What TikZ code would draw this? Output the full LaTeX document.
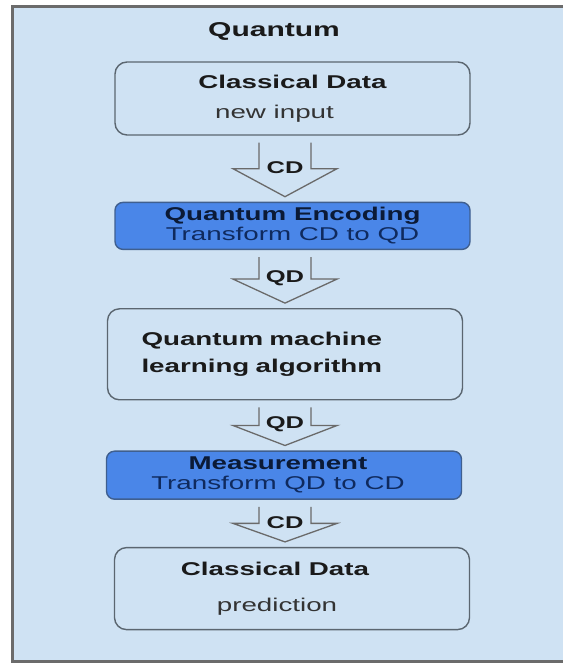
\documentclass[tikz,border=0pt]{standalone}
\usepackage{fontspec}
\setmainfont[FakeStretch=1.5]{Liberation Sans}
\usetikzlibrary{positioning, calc}
\definecolor{paneblue}{HTML}{CFE2F3}
\definecolor{stepblue}{HTML}{4A86E8}
\definecolor{stepedge}{HTML}{3F5F8F}
\definecolor{framegray}{HTML}{6B6B6B}
\definecolor{edgegray}{HTML}{5B6670}
\definecolor{arrowgray}{HTML}{6A6A6A}
\definecolor{inktext}{HTML}{1A1A1A}
\definecolor{softtext}{HTML}{333333}
\definecolor{navytext}{HTML}{0B1A36}
\definecolor{navysub}{HTML}{0F2A5E}

% hollow down arrow between two stacked boxes, open at the top
\newcommand{\flowdown}[4]{%
  \draw[hollow] let \p1=(#1.south), \p2=(#2.north), \n1={0.5*(\y1+\y2)} in
    (259,\y1-7) -- (259,\n1) -- (233,\n1) -- (285,\y2+5)
    -- (337,\n1) -- (311,\n1) -- (311,\y1-7)
    node[flowtag] (#4) at (285,\n1+1) {#3};}

\begin{document}
\begin{tikzpicture}[
    x=1pt, y=1pt,
    node distance=50pt,
    plainbox/.style={rectangle, draw=edgegray, line width=1.4pt,
                     rounded corners=12pt, minimum width=355pt,
                     align=center, text=inktext, inner ysep=2pt,
                     font=\fontsize{18.5}{20}\selectfont},
    stepbox/.style={plainbox, fill=stepblue, draw=stepedge,
                    rounded corners=8pt, text=navytext},
    hollow/.style={draw=arrowgray, line width=1.3pt, line join=miter},
    flowtag/.style={font=\bfseries\fontsize{17}{17}\selectfont,
                    text=inktext, inner sep=0pt}
  ]
    \useasboundingbox (0,0) rectangle (563,663);
    % pane with its frame on the left, top and bottom
    \fill[white] (0,0) rectangle (563,663);
    \fill[paneblue] (12,1.5) rectangle (563,656.5);
    \draw[framegray, line width=3pt]
      (563,656.5) -- (12.5,656.5) -- (12.5,1.5) -- (563,1.5);

    \node[font=\bfseries\fontsize{20}{22}\selectfont, text=inktext] (title)
      at (274,632) {Quantum};

    \node[plainbox, minimum height=73pt] (cin) at (292.5,564.5)
      {\bfseries Classical Data\\[10pt]\color{softtext}new input\hspace*{36pt}};
    \node[stepbox, minimum height=47pt, below=66pt of cin] (enc)
      {\bfseries Quantum Encoding\\\color{navysub}Transform CD to QD};
    \node[plainbox, minimum height=91pt, below=58pt of enc, xshift=-7.5pt,
          text width=287pt, align=left, font=\bfseries\fontsize{18.5}{27}\selectfont] (qml)
      {Quantum machine\\learning algorithm};
    \node[stepbox, minimum height=48pt, below=50pt of qml, xshift=-1pt] (meas)
      {\bfseries Measurement\hspace*{12pt}\\\color{navysub}Transform QD to CD\hspace*{12pt}};
    \node[plainbox, minimum height=82pt, below=47pt of meas, xshift=8pt] (cout)
      {\bfseries Classical Data\hspace*{34pt}\\[16pt]\color{softtext}prediction\hspace*{30pt}};

    \flowdown{cin}{enc}{CD}{f1}
    \flowdown{enc}{qml}{QD}{f2}
    \flowdown{qml}{meas}{QD}{f3}
    \flowdown{meas}{cout}{CD}{f4}
\end{tikzpicture}
\end{document}
